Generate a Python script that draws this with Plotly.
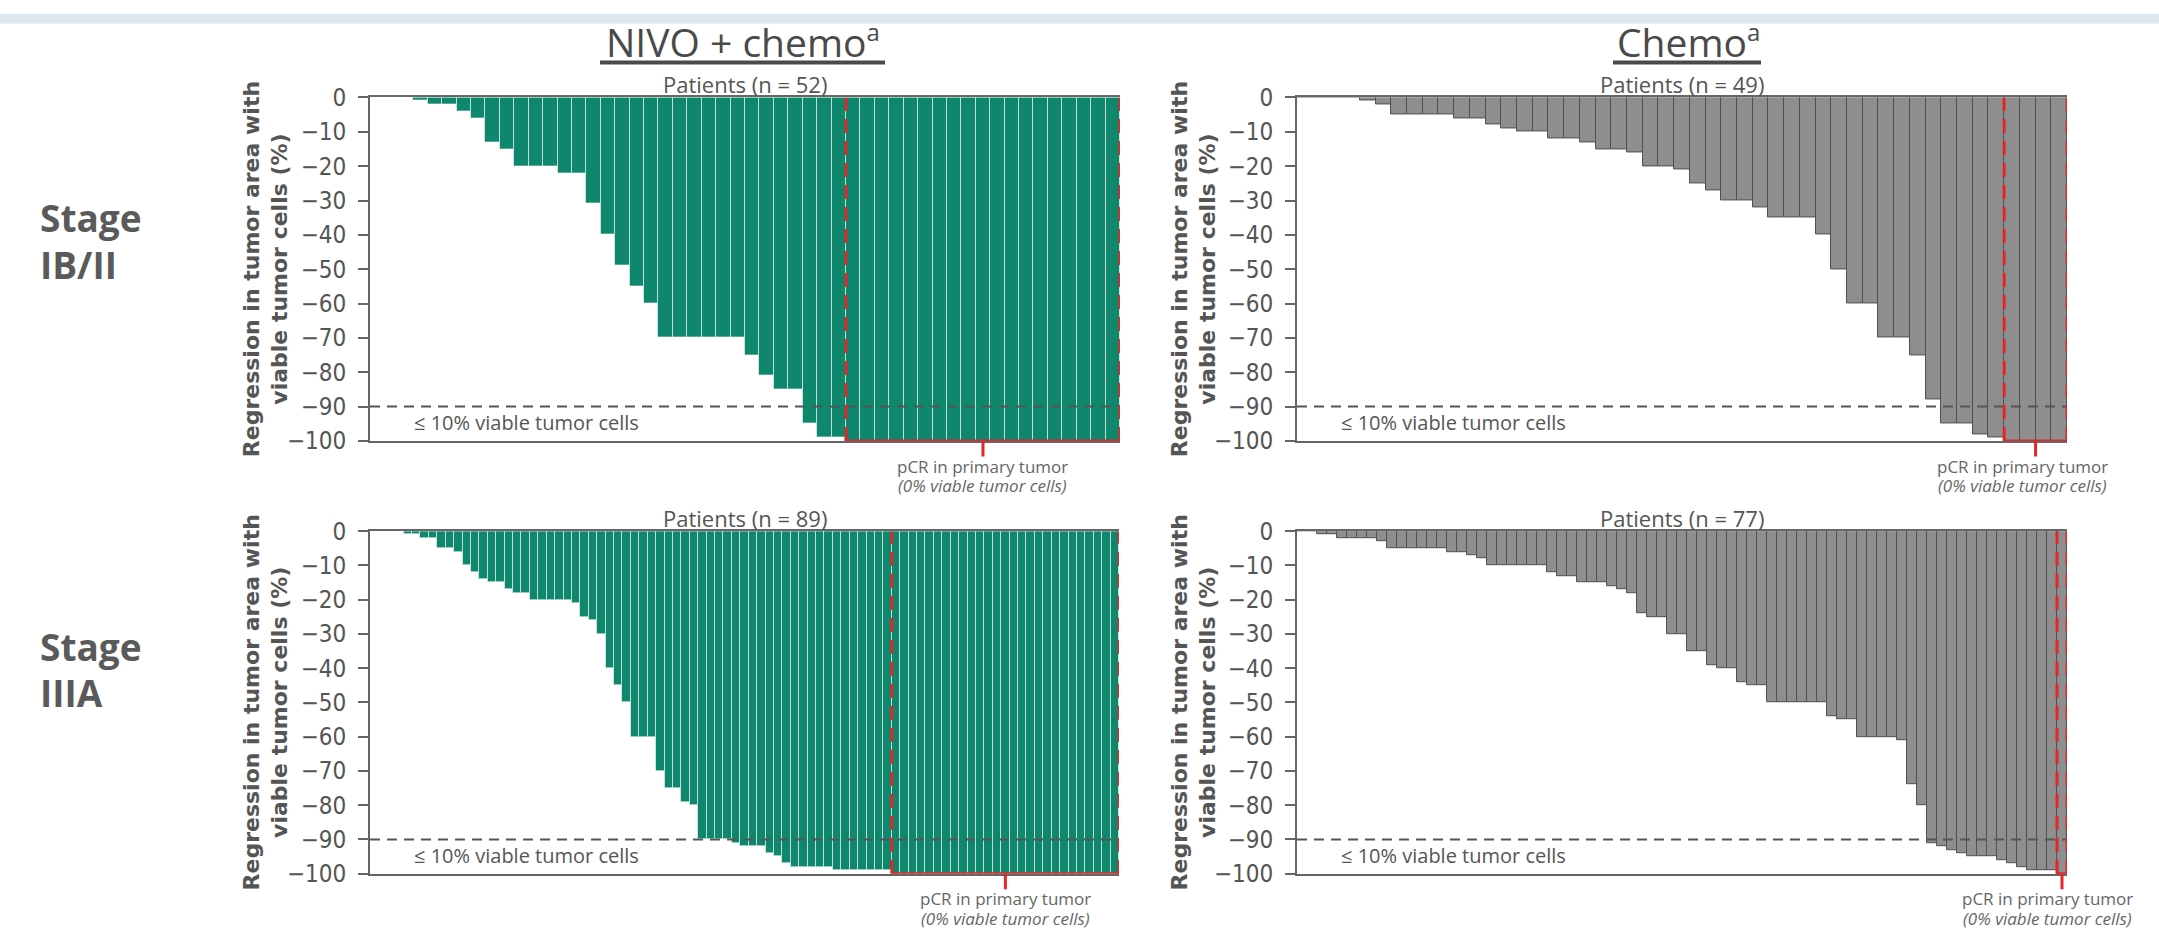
import plotly.graph_objects as go

W, H = 2159, 945

# ---------------- data ----------------
nivo_ib = [0, 0, 0, -1, -2, -2, -4, -6, -13, -15, -20, -20, -20, -22, -22, -31, -40, -49, -55, -60,
           -70, -70, -70, -70, -70, -70, -75, -81, -85, -85, -95, -99, -99,
           -100, -100, -100, -100, -100, -100, -100, -100, -100, -100, -100, -100, -100, -100,
           -100, -100, -100, -100, -100]
chemo_ib = [0, 0, 0, 0, -1, -2, -5, -5, -5, -5, -6, -6, -8, -9, -10, -10, -12, -12, -13, -15, -15,
            -16, -20, -20, -21, -25, -27, -30, -30, -32, -35, -35, -35, -40, -50, -60, -60, -70,
            -70, -75, -88, -95, -95, -98, -99, -100, -100, -100, -100]
nivo_iiia = [0, 0, 0, 0, -1, -1, -2, -2, -5, -5, -6, -10, -12, -14, -15, -15, -17, -18, -18,
             -20, -20, -20, -20, -20, -21, -25, -26, -30, -40, -45, -50, -60, -60, -60, -70, -75,
             -75, -79, -80, -90, -90, -90, -90, -91, -92, -92, -92, -94, -95, -97, -98, -98, -98,
             -98, -98, -99, -99, -99, -99, -99, -99, -99,
             -100, -100, -100, -100, -100, -100, -100, -100, -100, -100, -100, -100, -100, -100,
             -100, -100, -100, -100, -100, -100, -100, -100, -100, -100, -100, -100, -100]
chemo_iiia = [0, 0, -1, -1, -2, -2, -2, -2, -3, -5, -5, -5, -5, -5, -5, -6, -6, -7, -8, -10, -10,
              -10, -10, -10, -10, -12, -13, -13, -15, -15, -15, -16, -17, -18, -24, -25, -25, -30,
              -30, -35, -35, -39, -40, -40, -44, -45, -45, -50, -50, -50, -50, -50, -50, -54, -55,
              -55, -60, -60, -60, -60, -61, -74, -80, -91, -92, -93, -94, -95, -95, -95, -96, -97,
              -98, -99, -99, -99, -100]

arm_titles = ["NIVO + chemo<sup><span style='font-size:24px'>a</span></sup>",
              "Chemo<sup><span style='font-size:24px'>a</span></sup>"]
stage_lines = [["Stage", "IB/II"], ["Stage", "IIIA"]]
y_ticks = [0, -10, -20, -30, -40, -50, -60, -70, -80, -90, -100]
y_title = "Regression in tumor area with<br>viable tumor cells (%)"
threshold = -90
threshold_label = "≤ 10% viable tumor cells"
pcr_label = "pCR in primary tumor"
pcr_sub = "<i>(0% viable tumor cells)</i>"

GREEN = "#0f876c"
GRAY = "#8e8e8e"
RED = "#e3262a"
TXT = "#555555"
AX = "#666666"

# panel layout in pixels: (left, right, top, bottom)
panels = [
    dict(data=nivo_ib, color=GREEN, line="rgba(255,255,255,0.55)", box=(370, 1120, 86, 440),
         txshift=0, ytitle_x=266),
    dict(data=chemo_ib, color=GRAY, line="#505050", box=(1297, 2067, 86, 440),
         txshift=-13, ytitle_x=1194),
    dict(data=nivo_iiia, color=GREEN, line="rgba(255,255,255,0.55)", box=(370, 1119, 533, 886),
         txshift=0, ytitle_x=266),
    dict(data=chemo_iiia, color=GRAY, line="#505050", box=(1297, 2067, 533, 886),
         txshift=-15, ytitle_x=1194),
]

def px_x(p):
    return p / W

def px_y(p):
    return 1 - p / H

fig = go.Figure()
layout = dict(width=W, height=H, autosize=False, margin=dict(l=0, r=0, t=0, b=0),
              paper_bgcolor="white", plot_bgcolor="white", showlegend=False,
              bargap=0, barmode="overlay")
shapes = []
annotations = []

# top light band
shapes.append(dict(type="rect", xref="paper", yref="paper", x0=0, x1=1, y0=px_y(10), y1=1,
                   fillcolor="#dfe8f0", line=dict(width=0), layer="below"))

for i, p in enumerate(panels):
    k = i + 1
    xs = "x" if k == 1 else f"x{k}"
    ys = "y" if k == 1 else f"y{k}"
    xa = "xaxis" if k == 1 else f"xaxis{k}"
    ya = "yaxis" if k == 1 else f"yaxis{k}"
    data = p["data"]
    n = len(data)
    l, r, t, b = p["box"]
    fig.add_trace(go.Bar(x=list(range(n)), y=data, xaxis=xs, yaxis=ys, width=1,
                         marker=dict(color=p["color"], line=dict(color=p["line"], width=1))))
    layout[xa] = dict(domain=[px_x(l), px_x(r)], anchor=ys, range=[-0.5, n - 0.5],
                      showgrid=False, zeroline=False, showticklabels=False, ticks="",
                      showline=True, mirror=True, linecolor=AX, linewidth=2, fixedrange=True)
    layout[ya] = dict(domain=[px_y(b), px_y(t)], anchor=xs, range=[-100, 0],
                      tickvals=y_ticks, ticktext=[str(v).replace("-", "−") for v in y_ticks],
                      ticks="outside", ticklen=10, tickwidth=2, tickcolor=AX,
                      showline=True, linecolor=AX, linewidth=2, showgrid=False, zeroline=False,
                      ticklabelstandoff=7,
                      tickfont=dict(family="Liberation Sans Narrow, DejaVu Sans Condensed, Roboto",
                                    size=24, color=TXT), fixedrange=True)

    # threshold dashed line
    shapes.append(dict(type="line", xref=f"{xs} domain", yref=ys, x0=0, x1=1, y0=threshold, y1=threshold,
                       line=dict(color="#555555", width=2, dash="10px,7px"), layer="above"))
    # pCR bracket
    start = data.index(-100) - 0.5
    end = n - 0.5
    for xv in (start, end):
        shapes.append(dict(type="line", xref=xs, yref=ys, x0=xv, x1=xv, y0=-100, y1=0,
                           line=dict(color=RED, width=3, dash="14px,8px"), layer="above"))
    shapes.append(dict(type="line", xref=xs, yref=ys, x0=start, x1=end, y0=-100, y1=-100,
                       line=dict(color=RED, width=3), layer="above"))
    mid = (start + end) / 2
    shapes.append(dict(type="line", xref=xs, yref="paper", x0=mid, x1=mid, y0=px_y(b), y1=px_y(b + 16),
                       line=dict(color=RED, width=3), layer="above"))
    annotations.append(dict(text=pcr_label, xref=xs, yref="paper", x=mid, y=px_y(b + 26),
                            xshift=p["txshift"], showarrow=False, xanchor="center", yanchor="middle",
                            font=dict(family="Open Sans", size=17, color="#666666")))
    annotations.append(dict(text=pcr_sub, xref=xs, yref="paper", x=mid, y=px_y(b + 46),
                            xshift=p["txshift"], showarrow=False, xanchor="center", yanchor="middle",
                            font=dict(family="Open Sans", size=17, color="#666666")))
    # threshold label
    annotations.append(dict(text=threshold_label, xref="paper", yref="paper", x=px_x(l + 42),
                            y=px_y(b - 19), showarrow=False, xanchor="left", yanchor="middle",
                            font=dict(family="Open Sans", size=20, color=TXT)))
    # patients label
    annotations.append(dict(text=f"Patients (n = {n})", xref="paper", yref="paper",
                            x=px_x((l + r) / 2), y=px_y(t - 14), showarrow=False,
                            xanchor="center", yanchor="middle",
                            font=dict(family="Open Sans", size=22, color=TXT)))
    # y-axis title
    annotations.append(dict(text=y_title, xref="paper", yref="paper", x=px_x(p["ytitle_x"]),
                            y=px_y((t + b) / 2), showarrow=False, textangle=-90,
                            xanchor="center", yanchor="middle",
                            font=dict(family="DejaVu Sans", size=22, color=TXT, weight="bold")))

# arm titles (columns)
title_centers = [743, 1688]
for title, cx in zip(arm_titles, title_centers):
    annotations.append(dict(text=title, xref="paper", yref="paper", x=px_x(cx), y=px_y(28),
                            showarrow=False, xanchor="center", yanchor="middle",
                            font=dict(family="Open Sans", size=39, color="#4a4a4a")))
underlines = [(600, 885), (1613, 1761)]
for (u0, u1) in underlines:
    shapes.append(dict(type="line", xref="paper", yref="paper", x0=px_x(u0), x1=px_x(u1),
                       y0=px_y(50), y1=px_y(50), line=dict(color="#4a4a4a", width=4)))

# stage labels (rows)
stage_centers = [(210, 258), (652, 699)]
for lines, ys_ in zip(stage_lines, stage_centers):
    for txt, cy in zip(lines, ys_):
        annotations.append(dict(text=txt, xref="paper", yref="paper", x=px_x(38), y=px_y(cy),
                                showarrow=False, xanchor="left", yanchor="middle", align="left",
                                font=dict(family="Open Sans", size=37, color="#5a5a5a", weight="bold")))

layout["shapes"] = shapes
layout["annotations"] = annotations
fig.update_layout(**layout)
fig.write_html("out.html", config={"displayModeBar": False},
               post_script="document.body.style.margin='0';document.body.style.overflow='hidden';")
